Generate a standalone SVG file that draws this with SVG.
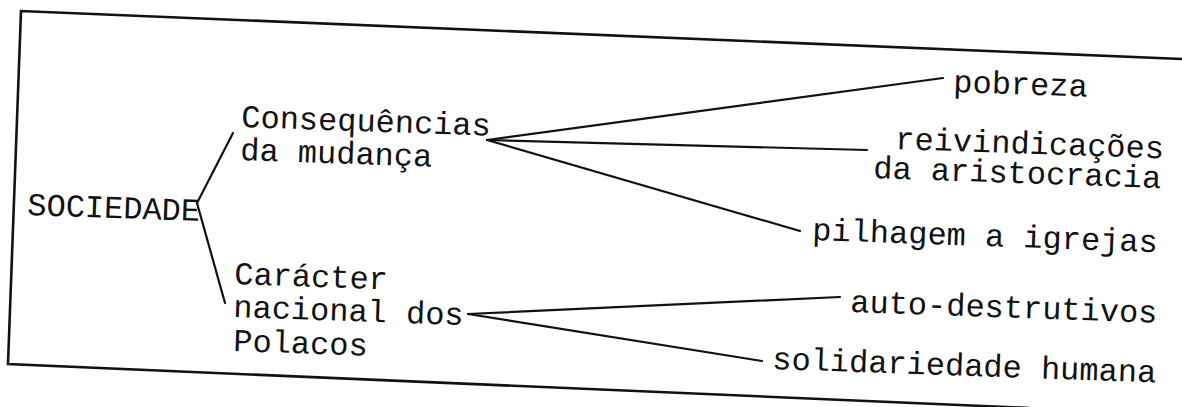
<svg xmlns="http://www.w3.org/2000/svg" width="1182" height="407" viewBox="0 0 1182 407">
<style>
.t{font-family:"Liberation Mono","Courier New",monospace;font-size:32px;fill:#111}
.ln{fill:none;stroke:#111;stroke-width:2.2;stroke-linecap:round;stroke-linejoin:miter}
.fr{fill:none;stroke:#111;stroke-width:2.6}
</style>
<rect width="1182" height="407" fill="#fff"/>
<g id="frame">
<polyline class="fr" points="1182,59 21,11 8,364 1030,408"/>
</g>
<g id="connectors">
<polyline class="ln" points="233,133 197,203 225,303"/>
<line class="ln" x1="487" y1="140" x2="943" y2="78"/>
<line class="ln" x1="487" y1="140" x2="867" y2="150"/>
<line class="ln" x1="487" y1="140" x2="800" y2="231"/>
<line class="ln" x1="468" y1="314" x2="840" y2="297"/>
<line class="ln" x1="468" y1="314" x2="762" y2="361"/>
</g>
<g id="n-sociedade"><text class="t" x="27" y="215" transform="rotate(2 27 215)">SOCIEDADE</text></g>
<g id="n-consequencias">
<text class="t" x="241" y="127" transform="rotate(2 241 127)">Consequências</text>
<text class="t" x="240" y="160" transform="rotate(2 240 160)">da mudança</text>
</g>
<g id="n-caracter">
<text class="t" x="234" y="284" transform="rotate(2 234 284)">Carácter</text>
<text class="t" x="233" y="317" transform="rotate(2 233 317)">nacional dos</text>
<text class="t" x="233" y="351" transform="rotate(2 233 351)">Polacos</text>
</g>
<g id="n-pobreza"><text class="t" x="953" y="92" transform="rotate(2 953 92)">pobreza</text></g>
<g id="n-reivindicacoes">
<text class="t" x="895" y="149" transform="rotate(2 895 149)">reivindicações</text>
<text class="t" x="873" y="178" transform="rotate(2 873 178)">da aristocracia</text>
</g>
<g id="n-pilhagem"><text class="t" x="812" y="240" transform="rotate(2 812 240)">pilhagem a igrejas</text></g>
<g id="n-auto"><text class="t" x="850" y="312" transform="rotate(2 850 312)">auto-destrutivos</text></g>
<g id="n-solidariedade"><text class="t" x="772" y="369" transform="rotate(2 772 369)">solidariedade humana</text></g>
</svg>
